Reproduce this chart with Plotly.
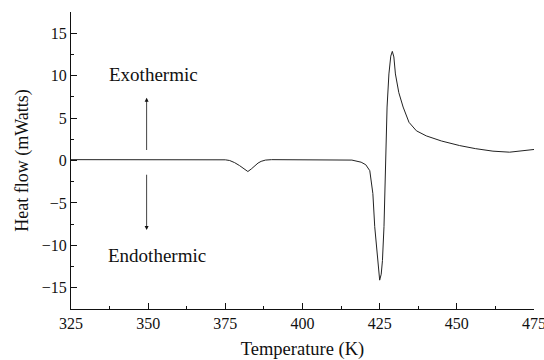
import plotly.graph_objects as go

temperature = [325, 335, 345, 355, 365, 372, 375, 376.4, 378, 379.6, 381, 382.3, 383.4, 384.5, 385.6, 386.6, 388, 390,
               400, 410, 416, 419, 420.5, 421.8, 422.8, 423.4, 424.3, 425.0, 425.5, 425.9, 426.4, 426.7, 426.9,
               427.4, 428.0, 428.6, 429.1, 429.6, 430.1, 431.2, 432.6, 434.5, 436.9, 440.1, 445, 450.9, 456,
               461.7, 467.1, 471, 475]
heat_flow = [0.1, 0.1, 0.1, 0.1, 0.1, 0.1, 0.08, 0.0, -0.25, -0.6, -1.0, -1.3, -1.0, -0.6, -0.3, -0.1, 0.05, 0.1,
             0.1, 0.1, 0.05, -0.2, -0.5, -1.2, -3.9, -7.8, -11.8, -14.1, -13.4, -11.8, -7.8, -3.9, -0.8,
             6.3, 10.2, 12.3, 12.86, 12.2, 10.2, 8.0, 6.3, 4.5, 3.5, 2.9, 2.3, 1.76, 1.4,
             1.1, 0.98, 1.1, 1.3]

x_ticks = [325, 350, 375, 400, 425, 450, 475]
y_ticks = [-15, -10, -5, 0, 5, 10, 15]

FONT = "Liberation Serif"

fig = go.Figure()
fig.add_trace(go.Scatter(x=temperature, y=heat_flow, mode="lines",
                         line=dict(color="#222222", width=1), showlegend=False))

fig.add_annotation(x=351.7, y=10.1, text="Exothermic", showarrow=False, xref="x", yref="y",
                   font=dict(family=FONT, size=19, color="#111111"))
fig.add_annotation(x=353, y=-11.2, text="Endothermic", showarrow=False, xref="x", yref="y",
                   font=dict(family=FONT, size=19, color="#111111"))
fig.add_annotation(x=349.5, y=7.4, ax=349.5, ay=1.06, axref="x", ayref="y", xref="x", yref="y",
                   text="", showarrow=True, arrowhead=2, arrowsize=1, arrowwidth=0.8, arrowcolor="#111111")
fig.add_annotation(x=349.5, y=-8.2, ax=349.5, ay=-1.5, axref="x", ayref="y", xref="x", yref="y",
                   text="", showarrow=True, arrowhead=2, arrowsize=1, arrowwidth=0.8, arrowcolor="#111111")

fig.update_xaxes(range=[325, 475.001], tickvals=x_ticks, ticks="inside", ticklen=6, tickwidth=1,
                 tickcolor="#111111", showline=True, linecolor="#111111", linewidth=1.2,
                 showgrid=False, zeroline=False, mirror=False, ticklabeloverflow="allow",
                 minor=dict(ticks="inside", dtick=12.5, tick0=325, ticklen=3, tickcolor="#111111"),
                 tickfont=dict(family=FONT, size=16, color="#111111"),
                 title=dict(text="Temperature (K)", font=dict(family=FONT, size=18.5, color="#111111"), standoff=12))
fig.update_yaxes(range=[-17.5, 17.5], tickvals=y_ticks, ticks="inside", ticklen=6, tickwidth=1,
                 tickcolor="#111111", showline=True, linecolor="#111111", linewidth=1.2,
                 showgrid=False, zeroline=False, mirror=False,
                 minor=dict(ticks="inside", dtick=2.5, tick0=0, ticklen=3, tickcolor="#111111"),
                 tickfont=dict(family=FONT, size=16, color="#111111"),
                 title=dict(text="Heat flow (mWatts)", font=dict(family=FONT, size=18, color="#111111"), standoff=8))

fig.update_layout(width=544, height=360, margin=dict(l=71, r=10, t=12, b=51, autoexpand=False),
                  plot_bgcolor="white", paper_bgcolor="white")

fig.write_html("out.html", config={"displayModeBar": False},
               post_script="document.body.style.margin='0';")
